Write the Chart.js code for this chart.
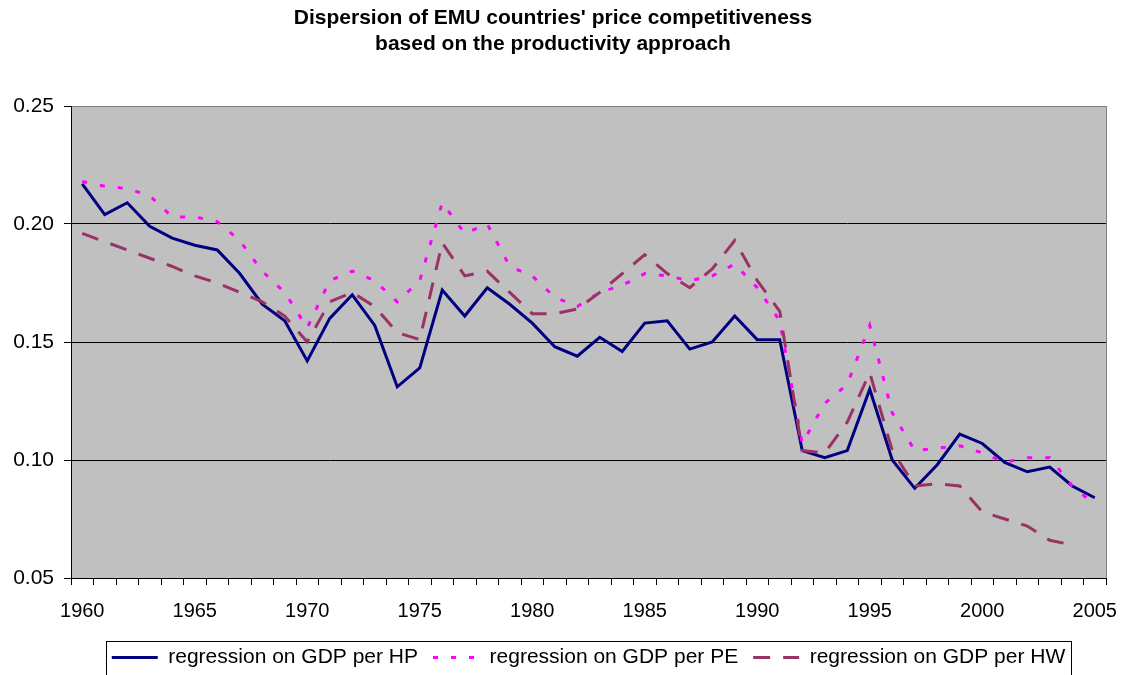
<!DOCTYPE html>
<html><head><meta charset="utf-8">
<script src="https://cdn.jsdelivr.net/npm/chart.js@4.4.0/dist/chart.umd.min.js"></script>
<style>html,body{margin:0;padding:0;background:#fff;}#wrap{width:1127px;height:675px;}</style>
</head><body><div id="wrap"><canvas id="c" width="1127" height="675"></canvas></div>
<script>
const years = [1960,1961,1962,1963,1964,1965,1966,1967,1968,1969,
  1970,1971,1972,1973,1974,1975,1976,1977,1978,1979,
  1980,1981,1982,1983,1984,1985,1986,1987,1988,1989,
  1990,1991,1992,1993,1994,1995,1996,1997,1998,1999,
  2000,2001,2002,2003,2004,2005];
const hpValues = [0.217,0.204,0.209,0.199,0.194,0.191,0.189,0.179,0.166,0.159,
  0.142,0.160,0.170,0.157,0.131,0.139,0.172,0.161,0.173,0.166,
  0.158,0.148,0.144,0.152,0.146,0.158,0.159,0.147,0.150,0.161,
  0.151,0.151,0.104,0.101,0.104,0.130,0.100,0.088,0.098,0.111,
  0.107,0.099,0.095,0.097,0.089,0.084];
const peValues = [0.218,0.216,0.215,0.212,0.203,0.203,0.201,0.193,0.180,0.171,
  0.156,0.176,0.180,0.176,0.167,0.176,0.209,0.196,0.200,0.182,
  0.178,0.169,0.165,0.171,0.174,0.179,0.178,0.176,0.178,0.183,
  0.173,0.159,0.107,0.124,0.132,0.157,0.120,0.104,0.105,0.106,
  0.103,0.099,0.101,0.101,0.089,0.081];
const hwValues = [0.196,0.1925,0.189,0.1855,0.182,0.178,0.175,0.171,0.167,0.161,
  0.150,0.167,0.171,0.165,0.154,0.151,0.192,0.178,0.180,0.171,
  0.162,0.162,0.164,0.171,0.179,0.187,0.179,0.173,0.181,0.193,
  0.176,0.163,0.104,0.103,0.116,0.137,0.104,0.089,0.090,0.089,
  0.078,0.075,0.072,0.066,0.064,null];
const yTicks = [0.05,0.10,0.15,0.20,0.25];
const seriesNames = ['regression on GDP per HP','regression on GDP per PE','regression on GDP per HW'];
const titleLines = ["Dispersion of EMU countries' price competitiveness","based on the productivity approach"];

const FONT = "'Liberation Sans', Arial, sans-serif";
Chart.defaults.font.family = FONT;
Chart.defaults.color = '#000';

const plotDeco = {
  id: 'plotDeco',
  beforeDraw(chart) {
    const {ctx, chartArea: a} = chart;
    ctx.save();
    ctx.fillStyle = '#C0C0C0';
    ctx.fillRect(a.left, a.top, a.right - a.left, a.bottom - a.top);
    ctx.restore();
  },
  beforeDatasetsDraw(chart) {
    const {ctx, chartArea: a} = chart;
    ctx.save();
    ctx.strokeStyle = '#808080';
    ctx.lineWidth = 1;
    ctx.beginPath();
    const x = Math.round(a.right) + 0.5;
    ctx.moveTo(x, a.top);
    ctx.lineTo(x, a.bottom);
    ctx.stroke();
    ctx.restore();
  },
  afterDraw(chart) {
    const lg = chart.legend;
    if (!lg || !lg.legendHitBoxes || !lg.legendHitBoxes.length) return;
    const hb = lg.legendHitBoxes;
    const l = Math.round(hb[0].left - 6) + 0.5;
    const last = hb[hb.length - 1];
    const r = Math.round(last.left + last.width + 6) + 0.5;
    const cy = hb[0].top + hb[0].height / 2;
    const t = Math.round(cy - 17) + 0.5;
    const ctx = chart.ctx;
    ctx.save();
    ctx.strokeStyle = '#000';
    ctx.lineWidth = 1;
    ctx.strokeRect(l, t, r - l, 34);
    ctx.restore();
  }
};

new Chart(document.getElementById('c'), {
  type: 'line',
  data: {
    labels: years.map(String),
    datasets: [
      {label: seriesNames[0], data: hpValues, borderColor: '#000080', backgroundColor: '#000080', borderWidth: 3, pointRadius: 0, tension: 0, fill: false, order: 2},
      {label: seriesNames[1], data: peValues, borderColor: '#FF00FF', backgroundColor: '#FF00FF', borderWidth: 3, borderDash: [5, 13], pointRadius: 0, tension: 0, fill: false, order: 1},
      {label: seriesNames[2], data: hwValues, borderColor: '#993366', backgroundColor: '#993366', borderWidth: 3, borderDash: [17, 13], pointRadius: 0, tension: 0, fill: false, spanGaps: false, order: 0}
    ]
  },
  options: {
    responsive: false,
    animation: false,
    devicePixelRatio: 1,
    layout: {padding: {top: 0, left: 0, right: 21, bottom: -3}},
    plugins: {
      tooltip: {enabled: false},
      title: {
        display: true,
        text: titleLines,
        color: '#000',
        font: {family: FONT, size: 21, weight: 'bold', lineHeight: 1.25},
        padding: {top: 5, bottom: 48.5}
      },
      legend: {
        position: 'bottom',
        fullSize: false,
        labels: {
          usePointStyle: true,
          pointStyle: 'line',
          pointStyleWidth: 46,
          padding: 15,
          color: '#000',
          font: {family: FONT, size: 21},
          sort: (a, b) => a.datasetIndex - b.datasetIndex,
          generateLabels(chart) {
            const items = Chart.defaults.plugins.legend.labels.generateLabels(chart);
            return items.map(it => {
              const ds = chart.data.datasets[it.datasetIndex];
              it.lineDash = ds.borderDash ? ds.borderDash.slice() : [];
              it.lineWidth = ds.borderWidth;
              it.strokeStyle = ds.borderColor;
              it.lineCap = 'butt';
              return it;
            });
          }
        }
      }
    },
    scales: {
      x: {
        type: 'category',
        offset: true,
        grid: {offset: true, drawOnChartArea: false, drawTicks: true, tickLength: 7, color: '#000', tickColor: '#000'},
        border: {color: '#000', width: 1},
        ticks: {
          autoSkip: false, maxRotation: 0, minRotation: 0, padding: 14,
          color: '#000', font: {family: FONT, size: 20},
          callback: function (v, i) { const yr = years[i]; return yr % 5 === 0 ? String(yr) : ''; }
        },
        afterFit(s) { s.height = 54; s.paddingRight = 0; s.paddingLeft = 0; }
      },
      y: {
        min: 0.05, max: 0.25,
        afterBuildTicks(s) { s.ticks = yTicks.map(v => ({value: v})); },
        grid: {
          color: c => (c.tick && c.tick.value > 0.249) ? '#808080' : '#000',
          tickColor: '#000', tickLength: 7, lineWidth: 1
        },
        border: {color: '#000', width: 1},
        ticks: {padding: 10, color: '#000', font: {family: FONT, size: 21}, callback: v => Number(v).toFixed(2)},
        afterFit(s) { s.width = 71; }
      }
    }
  },
  plugins: [plotDeco]
});
</script></body></html>
